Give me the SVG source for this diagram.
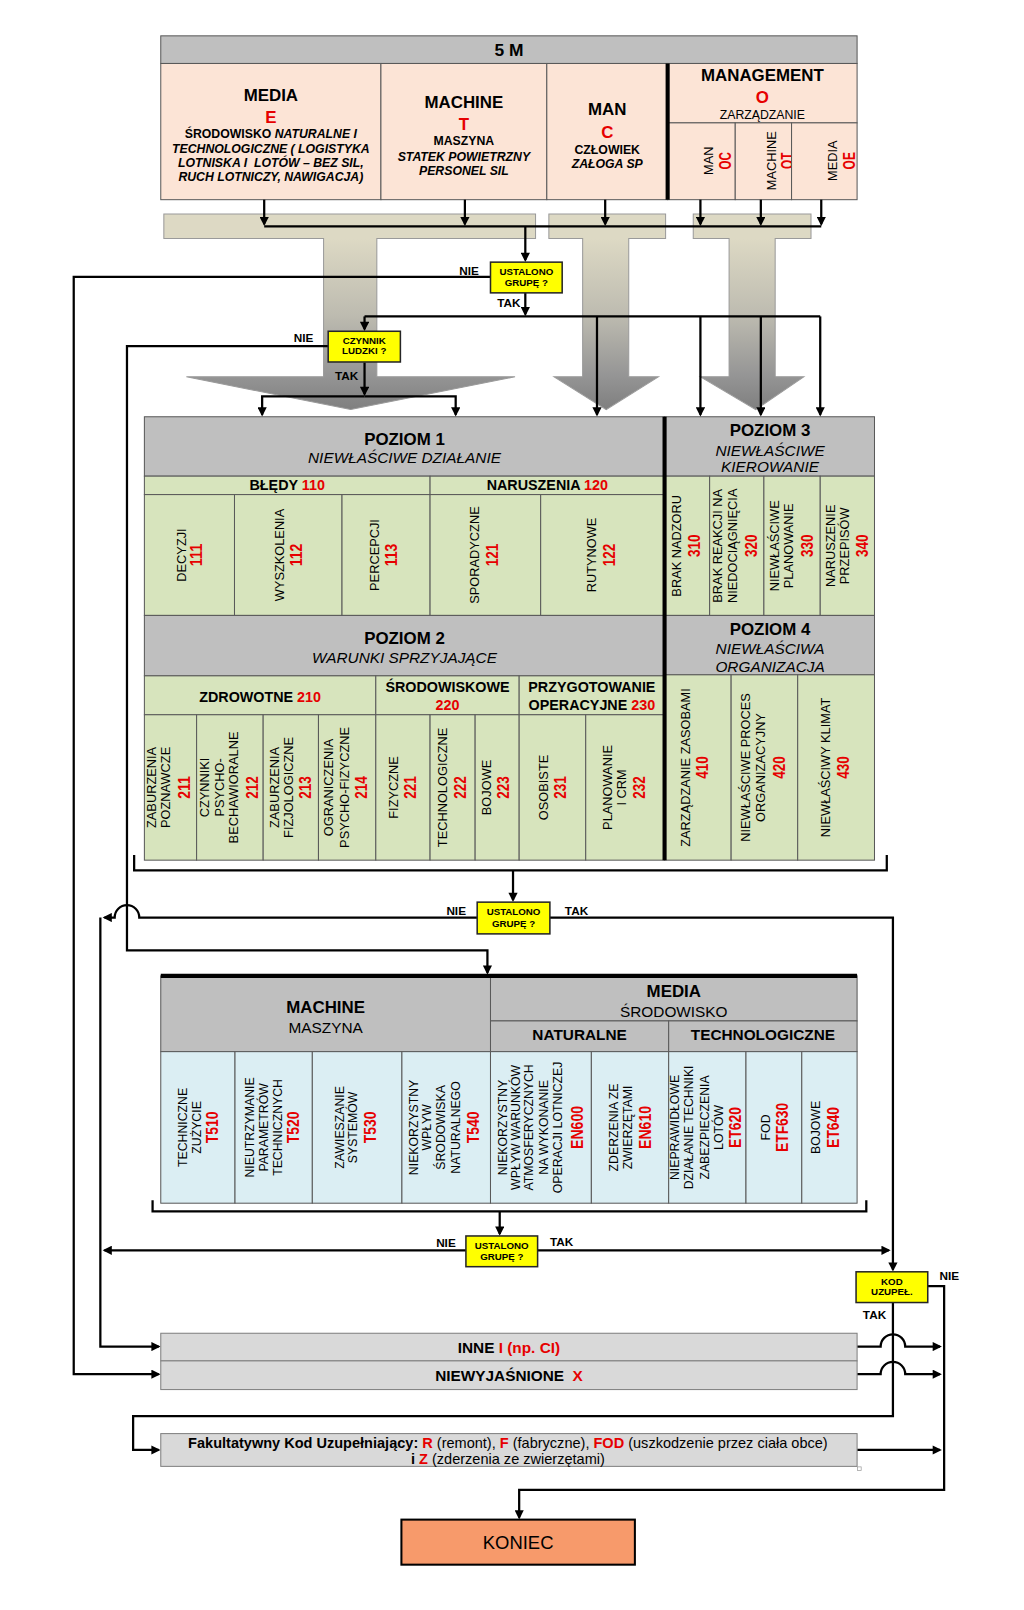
<svg xmlns="http://www.w3.org/2000/svg" width="1024" height="1610" viewBox="0 0 1024 1610">
<defs>
<style>
text{font-family:"Liberation Sans",Arial,Helvetica,sans-serif;fill:#000}
.b{font-weight:bold}
.i{font-style:italic}
.r{fill:#e60000}
.c{text-anchor:middle}
.v{text-anchor:middle;dominant-baseline:central;font-size:12.5px}
.vs{font-size:12px}
.n{text-anchor:middle;dominant-baseline:central;font-weight:bold;fill:#e60000;font-size:16px}
.k{stroke:#595959;stroke-width:1}
.hd{fill:#bfbfbf}
.gr{fill:#d7e4bd}
.bl{fill:#dbeef3}
.pe{fill:#fce4d6}
.gy{fill:#d9d9d9;stroke:#7f7f7f;stroke-width:1}
.yb{fill:#ffff00;stroke:#262626;stroke-width:1.5}
.cn{fill:none;stroke:#000;stroke-width:2.2}
.ar{marker-end:url(#ah)}
.lb{font-weight:bold;font-size:11.5px;text-anchor:middle}
.q{font-weight:bold;font-size:9.5px;text-anchor:middle}
.tk{stroke:#000;stroke-width:4;fill:none}
.big{fill:url(#tg);stroke:#9a9a9a;stroke-width:1}
</style>
<marker id="ah" viewBox="0 0 10 10" refX="8" refY="5" markerWidth="10" markerHeight="9" markerUnits="userSpaceOnUse" orient="auto"><path d="M0,0 L10,5 L0,10 z" fill="#000"/></marker>
<linearGradient id="tg" gradientUnits="userSpaceOnUse" x1="0" y1="233" x2="0" y2="400">
<stop offset="0" stop-color="#ddd9c4"/><stop offset="0.45" stop-color="#bdbbb0"/><stop offset="0.8" stop-color="#959595"/><stop offset="1" stop-color="#7f7f7f"/>
</linearGradient>
</defs>
<rect width="1024" height="1610" fill="#fff"/>
<g transform="scale(1.024)">

<g id="bigArrows">
<path class="big" d="M160,209 H523 V233 H368 V368 H503 L342.5,400 L182,368 H316 V233 H160 Z"/>
<path class="big" d="M536,209 H650 V233 H614 V368 H643 L592,400 L541,368 H569 V233 H536 Z"/>
<path class="big" d="M677,209 H792 V233 H757 V368 H785 L738,400 L684,368 H712 V233 H677 Z"/>
</g>

<g id="top5m">
<rect class="hd k" x="157" y="35" width="680" height="27"/>
<text class="b c" x="497" y="54.5" font-size="17">5 M</text>
</g>
<g id="topMedia">
<rect class="pe k" x="157" y="62" width="215" height="133"/>
<text class="b c" x="264.5" y="99" font-size="16.5">MEDIA</text>
<text class="b c r" x="264.5" y="120" font-size="16.5">E</text>
<text class="b c" font-size="12" x="264.5" y="135">ŚRODOWISKO <tspan class="i">NATURALNE I</tspan></text>
<text class="b i c" font-size="12" x="264.5" y="149">TECHNOLOGICZNE ( LOGISTYKA</text>
<text class="b i c" font-size="12" x="264.5" y="163">LOTNISKA I&#160; LOTÓW – BEZ SIL,</text>
<text class="b i c" font-size="12" x="264.5" y="177">RUCH LOTNICZY, NAWIGACJA)</text>
</g>
<g id="topMachine">
<rect class="pe k" x="372" y="62" width="162" height="133"/>
<text class="b c" x="453" y="105" font-size="16.5">MACHINE</text>
<text class="b c r" x="453" y="127" font-size="16.5">T</text>
<text class="b c" font-size="12" x="453" y="142">MASZYNA</text>
<text class="b i c" font-size="12" x="453" y="157">STATEK POWIETRZNY</text>
<text class="b i c" font-size="12" x="453" y="171">PERSONEL SIL</text>
</g>
<g id="topMan">
<rect class="pe k" x="534" y="62" width="118" height="133"/>
<text class="b c" x="593" y="112" font-size="16.5">MAN</text>
<text class="b c r" x="593" y="135" font-size="16.5">C</text>
<text class="b c" font-size="12" x="593" y="150">CZŁOWIEK</text>
<text class="b i c" font-size="12" x="593" y="164">ZAŁOGA SP</text>
</g>
<g id="topManagement">
<rect class="pe k" x="652" y="62" width="185" height="58"/>
<text class="b c" x="744.5" y="79" font-size="16.5">MANAGEMENT</text>
<text class="b c r" x="744.5" y="101" font-size="16.5">O</text>
<text class="c" font-size="12" x="744.5" y="116">ZARZĄDZANIE</text>
</g>
<g id="mgMan">
<rect class="pe k" x="652" y="120" width="66" height="75"/>
<g transform="translate(0,157) rotate(-90)"><text class="v" x="0" y="692">MAN</text><text class="n" x="0" y="708" textLength="17" lengthAdjust="spacingAndGlyphs">OC</text></g>
</g>
<g id="mgMachine">
<rect class="pe k" x="718" y="120" width="55" height="75"/>
<g transform="translate(0,157) rotate(-90)"><text class="v" x="0" y="753">MACHINE</text><text class="n" x="0" y="769" textLength="16" lengthAdjust="spacingAndGlyphs">OT</text></g>
</g>
<g id="mgMedia">
<rect class="pe k" x="773" y="120" width="64" height="75"/>
<g transform="translate(0,157) rotate(-90)"><text class="v" x="0" y="813">MEDIA</text><text class="n" x="0" y="829" textLength="17" lengthAdjust="spacingAndGlyphs">OE</text></g>
</g>
<path class="tk" d="M652,62 V195" stroke-width="3"/>

<!-- POZIOM table -->
<g id="poziom1">
<rect class="hd k" x="141" y="407" width="508" height="58"/>
<text class="b c" x="395" y="434.5" font-size="16.5">POZIOM 1</text>
<text class="i c" x="395" y="452.5" font-size="15">NIEWŁAŚCIWE DZIAŁANIE</text>
</g>
<g id="poziom3">
<rect class="hd k" x="649" y="407" width="205" height="58"/>
<text class="b c" x="752" y="426" font-size="16.5">POZIOM 3</text>
<text class="i c" x="752" y="445" font-size="15">NIEWŁAŚCIWE</text>
<text class="i c" x="752" y="461" font-size="15">KIEROWANIE</text>
</g>
<g id="bledy"><rect class="gr k" x="141" y="465" width="279" height="18"/><text class="b c" x="280.5" y="479" font-size="14">BŁĘDY <tspan class="r">110</tspan></text></g>
<g id="naruszenia"><rect class="gr k" x="420" y="465" width="229" height="18"/><text class="b c" x="534.5" y="479" font-size="14">NARUSZENIA <tspan class="r">120</tspan></text></g>

<g id="c111"><rect class="gr k" x="141" y="483" width="88" height="118"/><g transform="translate(0,542) rotate(-90)"><text class="v" x="0" y="177">DECYZJI</text><text class="n" x="0" y="191" textLength="22" lengthAdjust="spacingAndGlyphs">111</text></g></g>
<g id="c112"><rect class="gr k" x="229" y="483" width="105" height="118"/><g transform="translate(0,542) rotate(-90)"><text class="v" x="0" y="273">WYSZKOLENIA</text><text class="n" x="0" y="289" textLength="22" lengthAdjust="spacingAndGlyphs">112</text></g></g>
<g id="c113"><rect class="gr k" x="334" y="483" width="86" height="118"/><g transform="translate(0,542) rotate(-90)"><text class="v" x="0" y="366">PERCEPCJI</text><text class="n" x="0" y="382" textLength="22" lengthAdjust="spacingAndGlyphs">113</text></g></g>
<g id="c121"><rect class="gr k" x="420" y="483" width="108" height="118"/><g transform="translate(0,542) rotate(-90)"><text class="v" x="0" y="463">SPORADYCZNE</text><text class="n" x="0" y="480" textLength="22" lengthAdjust="spacingAndGlyphs">121</text></g></g>
<g id="c122"><rect class="gr k" x="528" y="483" width="121" height="118"/><g transform="translate(0,542) rotate(-90)"><text class="v" x="0" y="578">RUTYNOWE</text><text class="n" x="0" y="595" textLength="22" lengthAdjust="spacingAndGlyphs">122</text></g></g>

<g id="c310"><rect class="gr k" x="649" y="465" width="44" height="136"/><g transform="translate(0,533) rotate(-90)"><text class="v" x="0" y="661">BRAK NADZORU</text><text class="n" x="0" y="678" textLength="22" lengthAdjust="spacingAndGlyphs">310</text></g></g>
<g id="c320"><rect class="gr k" x="693" y="465" width="53" height="136"/><g transform="translate(0,533) rotate(-90)"><text class="v" x="0" y="701">BRAK REAKCJI NA</text><text class="v" x="0" y="715">NIEDOCIĄGNIĘCIA</text><text class="n" x="0" y="733" textLength="22" lengthAdjust="spacingAndGlyphs">320</text></g></g>
<g id="c330"><rect class="gr k" x="746" y="465" width="55" height="136"/><g transform="translate(0,533) rotate(-90)"><text class="v" x="0" y="756">NIEWŁAŚCIWE</text><text class="v" x="0" y="770">PLANOWANIE</text><text class="n" x="0" y="788" textLength="22" lengthAdjust="spacingAndGlyphs">330</text></g></g>
<g id="c340"><rect class="gr k" x="801" y="465" width="53" height="136"/><g transform="translate(0,533) rotate(-90)"><text class="v" x="0" y="811">NARUSZENIE</text><text class="v" x="0" y="825">PRZEPISÓW</text><text class="n" x="0" y="842" textLength="22" lengthAdjust="spacingAndGlyphs">340</text></g></g>

<g id="poziom2">
<rect class="hd k" x="141" y="601" width="508" height="59"/>
<text class="b c" x="395" y="629" font-size="16.5">POZIOM 2</text>
<text class="i c" x="395" y="647" font-size="15">WARUNKI SPRZYJAJĄCE</text>
</g>
<g id="poziom4">
<rect class="hd k" x="649" y="601" width="205" height="58"/>
<text class="b c" x="752" y="620.5" font-size="16.5">POZIOM 4</text>
<text class="i c" x="752" y="638.5" font-size="15">NIEWŁAŚCIWA</text>
<text class="i c" x="752" y="656" font-size="15">ORGANIZACJA</text>
</g>
<g id="zdrowotne"><rect class="gr k" x="141" y="660" width="226" height="38"/><text class="b c" x="254" y="685.5" font-size="14">ZDROWOTNE <tspan class="r">210</tspan></text></g>
<g id="srodowiskowe"><rect class="gr k" x="367" y="660" width="140" height="38"/><text class="b c" x="437" y="676" font-size="14">ŚRODOWISKOWE</text><text class="b c r" x="437" y="693" font-size="14">220</text></g>
<g id="przygotowanie"><rect class="gr k" x="507" y="660" width="142" height="38"/><text class="b c" x="578" y="676" font-size="14">PRZYGOTOWANIE</text><text class="b c" x="578" y="693" font-size="14">OPERACYJNE <tspan class="r">230</tspan></text></g>

<g id="c211"><rect class="gr k" x="141" y="698" width="51" height="142"/><g transform="translate(0,769) rotate(-90)"><text class="v" x="0" y="148">ZABURZENIA</text><text class="v" x="0" y="162">POZNAWCZE</text><text class="n" x="0" y="180" textLength="22" lengthAdjust="spacingAndGlyphs">211</text></g></g>
<g id="c212"><rect class="gr k" x="192" y="698" width="65" height="142"/><g transform="translate(0,769) rotate(-90)"><text class="v" x="0" y="200">CZYNNIKI</text><text class="v" x="0" y="214">PSYCHO-</text><text class="v" x="0" y="228">BECHAWIORALNE</text><text class="n" x="0" y="246" textLength="22" lengthAdjust="spacingAndGlyphs">212</text></g></g>
<g id="c213"><rect class="gr k" x="257" y="698" width="54" height="142"/><g transform="translate(0,769) rotate(-90)"><text class="v" x="0" y="268">ZABURZENIA</text><text class="v" x="0" y="282">FIZJOLOGICZNE</text><text class="n" x="0" y="298" textLength="22" lengthAdjust="spacingAndGlyphs">213</text></g></g>
<g id="c214"><rect class="gr k" x="311" y="698" width="56" height="142"/><g transform="translate(0,769) rotate(-90)"><text class="v" x="0" y="321">OGRANICZENIA</text><text class="v" x="0" y="336">PSYCHO-FIZYCZNE</text><text class="n" x="0" y="352.5" textLength="22" lengthAdjust="spacingAndGlyphs">214</text></g></g>
<g id="c221"><rect class="gr k" x="367" y="698" width="53" height="142"/><g transform="translate(0,769) rotate(-90)"><text class="v" x="0" y="384">FIZYCZNE</text><text class="n" x="0" y="400" textLength="22" lengthAdjust="spacingAndGlyphs">221</text></g></g>
<g id="c222"><rect class="gr k" x="420" y="698" width="44" height="142"/><g transform="translate(0,769) rotate(-90)"><text class="v" x="0" y="432">TECHNOLOGICZNE</text><text class="n" x="0" y="449" textLength="22" lengthAdjust="spacingAndGlyphs">222</text></g></g>
<g id="c223"><rect class="gr k" x="464" y="698" width="43" height="142"/><g transform="translate(0,769) rotate(-90)"><text class="v" x="0" y="475">BOJOWE</text><text class="n" x="0" y="491" textLength="22" lengthAdjust="spacingAndGlyphs">223</text></g></g>
<g id="c231"><rect class="gr k" x="507" y="698" width="65" height="142"/><g transform="translate(0,769) rotate(-90)"><text class="v" x="0" y="531">OSOBISTE</text><text class="n" x="0" y="547" textLength="22" lengthAdjust="spacingAndGlyphs">231</text></g></g>
<g id="c232"><rect class="gr k" x="572" y="698" width="77" height="142"/><g transform="translate(0,769) rotate(-90)"><text class="v" x="0" y="593">PLANOWANIE</text><text class="v" x="0" y="607">I CRM</text><text class="n" x="0" y="624" textLength="22" lengthAdjust="spacingAndGlyphs">232</text></g></g>

<g id="c410"><rect class="gr k" x="649" y="659" width="65" height="181"/><g transform="translate(0,749.5) rotate(-90)"><text class="v" x="0" y="669">ZARZĄDZANIE ZASOBAMI</text><text class="n" x="0" y="686" textLength="22" lengthAdjust="spacingAndGlyphs">410</text></g></g>
<g id="c420"><rect class="gr k" x="714" y="659" width="65" height="181"/><g transform="translate(0,749.5) rotate(-90)"><text class="v" x="0" y="728">NIEWŁAŚCIWE PROCES</text><text class="v" x="0" y="743">ORGANIZACYJNY</text><text class="n" x="0" y="761" textLength="22" lengthAdjust="spacingAndGlyphs">420</text></g></g>
<g id="c430"><rect class="gr k" x="779" y="659" width="75" height="181"/><g transform="translate(0,749.5) rotate(-90)"><text class="v" x="0" y="806">NIEWŁAŚCIWY KLIMAT</text><text class="n" x="0" y="823" textLength="22" lengthAdjust="spacingAndGlyphs">430</text></g></g>
<path class="tk" d="M649,407 V840"/>

<!-- MACHINE / MEDIA table -->
<g id="machineHdr">
<rect class="hd k" x="157" y="953" width="322" height="74"/>
<text class="b c" x="318" y="989" font-size="16.5">MACHINE</text>
<text class="c" x="318" y="1009" font-size="15">MASZYNA</text>
</g>
<g id="mediaHdr">
<rect class="hd k" x="479" y="953" width="358" height="44"/>
<text class="b c" x="658" y="974" font-size="16.5">MEDIA</text>
<text class="c" x="658" y="993.5" font-size="15">ŚRODOWISKO</text>
</g>
<g id="naturalne"><rect class="hd k" x="479" y="997" width="174" height="30"/><text class="b c" x="566" y="1015.5" font-size="15">NATURALNE</text></g>
<g id="technologiczne"><rect class="hd k" x="653" y="997" width="184" height="30"/><text class="b c" x="745" y="1015.5" font-size="15">TECHNOLOGICZNE</text></g>
<path class="tk" d="M157,953 H837"/>

<g id="t510"><rect class="bl k" x="157" y="1027" width="72.5" height="148"/><g transform="translate(0,1101) rotate(-90)"><text class="v vs" x="0" y="179">TECHNICZNE</text><text class="v vs" x="0" y="192">ZUŻYCIE</text><text class="n" x="0" y="207" textLength="31" lengthAdjust="spacingAndGlyphs">T510</text></g></g>
<g id="t520"><rect class="bl k" x="229.5" y="1027" width="75.5" height="148"/><g transform="translate(0,1101) rotate(-90)"><text class="v vs" x="0" y="244.5">NIEUTRZYMANIE</text><text class="v vs" x="0" y="257.5">PARAMETRÓW</text><text class="v vs" x="0" y="271">TECHNICZNYCH</text><text class="n" x="0" y="286" textLength="31" lengthAdjust="spacingAndGlyphs">T520</text></g></g>
<g id="t530"><rect class="bl k" x="305" y="1027" width="87.5" height="148"/><g transform="translate(0,1101) rotate(-90)"><text class="v vs" x="0" y="332">ZAWIESZANIE</text><text class="v vs" x="0" y="345">SYSTEMÓW</text><text class="n" x="0" y="361" textLength="31" lengthAdjust="spacingAndGlyphs">T530</text></g></g>
<g id="t540"><rect class="bl k" x="392.5" y="1027" width="86.5" height="148"/><g transform="translate(0,1101) rotate(-90)"><text class="v vs" x="0" y="404">NIEKORZYSTNY</text><text class="v vs" x="0" y="417">WPŁYW</text><text class="v vs" x="0" y="431">ŚRODOWISKA</text><text class="v vs" x="0" y="445">NATURALNEGO</text><text class="n" x="0" y="462" textLength="31" lengthAdjust="spacingAndGlyphs">T540</text></g></g>
<g id="en600"><rect class="bl k" x="479" y="1027" width="98.5" height="148"/><g transform="translate(0,1101) rotate(-90)"><text class="v vs" x="0" y="491">NIEKORZYSTNY</text><text class="v vs" x="0" y="504">WPŁYW WARUNKÓW</text><text class="v vs" x="0" y="517">ATMOSFERYCZNYCH</text><text class="v vs" x="0" y="531">NA WYKONANIE</text><text class="v vs" x="0" y="545">OPERACJI LOTNICZEJ</text><text class="n" x="0" y="563" textLength="42" lengthAdjust="spacingAndGlyphs">EN600</text></g></g>
<g id="en610"><rect class="bl k" x="577.5" y="1027" width="75.5" height="148"/><g transform="translate(0,1101) rotate(-90)"><text class="v vs" x="0" y="600">ZDERZENIA ZE</text><text class="v vs" x="0" y="613">ZWIERZĘTAMI</text><text class="n" x="0" y="630" textLength="42" lengthAdjust="spacingAndGlyphs">EN610</text></g></g>
<g id="et620"><rect class="bl k" x="653" y="1027" width="75.5" height="148"/><g transform="translate(0,1101) rotate(-90)"><text class="v vs" x="0" y="659">NIEPRAWIDŁOWE</text><text class="v vs" x="0" y="673">DZIAŁANIE TECHNIKI</text><text class="v vs" x="0" y="688">ZABEZPIECZENIA</text><text class="v vs" x="0" y="702">LOTÓW</text><text class="n" x="0" y="718" textLength="40" lengthAdjust="spacingAndGlyphs">ET620</text></g></g>
<g id="etf630"><rect class="bl k" x="728.5" y="1027" width="54.5" height="148"/><g transform="translate(0,1101) rotate(-90)"><text class="v vs" x="0" y="748">FOD</text><text class="n" x="0" y="764" textLength="48" lengthAdjust="spacingAndGlyphs">ETF630</text></g></g>
<g id="et640"><rect class="bl k" x="783" y="1027" width="54" height="148"/><g transform="translate(0,1101) rotate(-90)"><text class="v vs" x="0" y="797">BOJOWE</text><text class="n" x="0" y="813" textLength="40" lengthAdjust="spacingAndGlyphs">ET640</text></g></g>

<!-- connectors -->
<g id="connectors" class="cn">
<path class="ar" d="M258,195V219"/>
<path class="ar" d="M454,195V219"/>
<path class="ar" d="M591,195V219"/>
<path class="ar" d="M684,195V219"/>
<path class="ar" d="M743,195V219"/>
<path class="ar" d="M802,195V219"/>
<path d="M258,221H802"/>
<path class="ar" d="M513,221V254"/>
<path class="ar" d="M479,270.5H72V1342H155"/>
<path class="ar" d="M513,286V307"/>
<path d="M356,309H801"/>
<path class="ar" d="M356,309V321.5"/>
<path class="ar" d="M583,309V405"/>
<path class="ar" d="M684,309V405"/>
<path class="ar" d="M743,309V405"/>
<path class="ar" d="M801,309V405"/>
<path class="ar" d="M320.5,338H124V928H476V950"/>
<path class="ar" d="M356,354V385"/>
<path class="ar" d="M356,387H256V405"/>
<path class="ar" d="M356,387H445V405"/>
<path d="M131,835V850H866V835"/>
<path class="ar" d="M501,850V879"/>
<path class="ar" d="M466,896H136A12,12 0 0 0 112,896H102"/>
<path class="ar" d="M98,896V1315H155"/>
<path class="ar" d="M537,896H872V1240"/>
<path d="M149,1172V1183H846V1172"/>
<path class="ar" d="M488,1183V1205"/>
<path class="ar" d="M455,1221H102"/>
<path class="ar" d="M525,1221H868"/>
<path class="ar" d="M906,1256H922V1455H507V1482"/>
<path class="ar" d="M872,1272V1383H130V1416H155"/>
<path class="ar" d="M837,1315H860A12,12 0 0 1 884,1315H918"/>
<path class="ar" d="M837,1342H860A12,12 0 0 1 884,1342H918"/>
<path class="ar" d="M837,1416H918"/>
</g>

<g id="labels">
<text class="lb" x="458" y="268.5">NIE</text>
<text class="lb" x="497" y="300">TAK</text>
<text class="lb" x="296.5" y="333.5">NIE</text>
<text class="lb" x="338.5" y="371">TAK</text>
<text class="lb" x="445.5" y="893.5">NIE</text>
<text class="lb" x="563" y="893.5">TAK</text>
<text class="lb" x="435.5" y="1217.5">NIE</text>
<text class="lb" x="548.5" y="1217">TAK</text>
<text class="lb" x="927" y="1250">NIE</text>
<text class="lb" x="854" y="1288">TAK</text>
</g>

<g id="ustalono1"><rect class="yb" x="479" y="256" width="70" height="30"/><text class="q" x="514" y="268.8">USTALONO</text><text class="q" x="514" y="279.5">GRUPĘ ?</text></g>
<g id="czynnik"><rect class="yb" x="320.5" y="323.5" width="70.5" height="30"/><text class="q" x="355.7" y="335.5">CZYNNIK</text><text class="q" x="355.7" y="346">LUDZKI ?</text></g>
<g id="ustalono2"><rect class="yb" x="466" y="881" width="71" height="31"/><text class="q" x="501.5" y="893.5">USTALONO</text><text class="q" x="501.5" y="905">GRUPĘ ?</text></g>
<g id="ustalono3"><rect class="yb" x="455" y="1207" width="70" height="30"/><text class="q" x="490" y="1219.5">USTALONO</text><text class="q" x="490" y="1230.5">GRUPĘ ?</text></g>
<g id="kod"><rect class="yb" x="836" y="1242" width="70" height="30"/><text class="q" x="871" y="1254.5">KOD</text><text class="q" x="871" y="1265">UZUPEŁ.</text></g>

<g id="inne"><rect class="gy" x="157" y="1302" width="680" height="27"/><text class="b c" x="497" y="1321.5" font-size="15">INNE <tspan class="r">I (np. CI)</tspan></text></g>
<g id="niewyjasnione"><rect class="gy" x="157" y="1329" width="680" height="28"/><text class="b c" x="497" y="1348.5" font-size="15">NIEWYJAŚNIONE <tspan class="r" dx="4">X</tspan></text></g>
<g id="fakultatywny"><rect class="gy" x="157" y="1400" width="680" height="32"/>
<text class="c" x="496" y="1414.5" font-size="14.2"><tspan class="b">Fakultatywny Kod Uzupełniający: </tspan><tspan class="b r">R</tspan> (remont), <tspan class="b r">F</tspan> (fabryczne), <tspan class="b r">FOD</tspan> (uszkodzenie przez ciała obce)</text>
<text class="c" x="496" y="1429.5" font-size="14.2"><tspan class="b">i </tspan><tspan class="b r">Z</tspan> (zderzenia ze zwierzętami)</text>
<rect x="837.5" y="1432.5" width="3.5" height="3.5" fill="#fff" stroke="#999" stroke-width="0.7"/>
</g>
<g id="koniec"><rect x="392" y="1484" width="228" height="44" fill="#f79a6b" stroke="#000" stroke-width="2"/><text class="c" x="506" y="1512.5" font-size="18">KONIEC</text></g>

</g>
</svg>
